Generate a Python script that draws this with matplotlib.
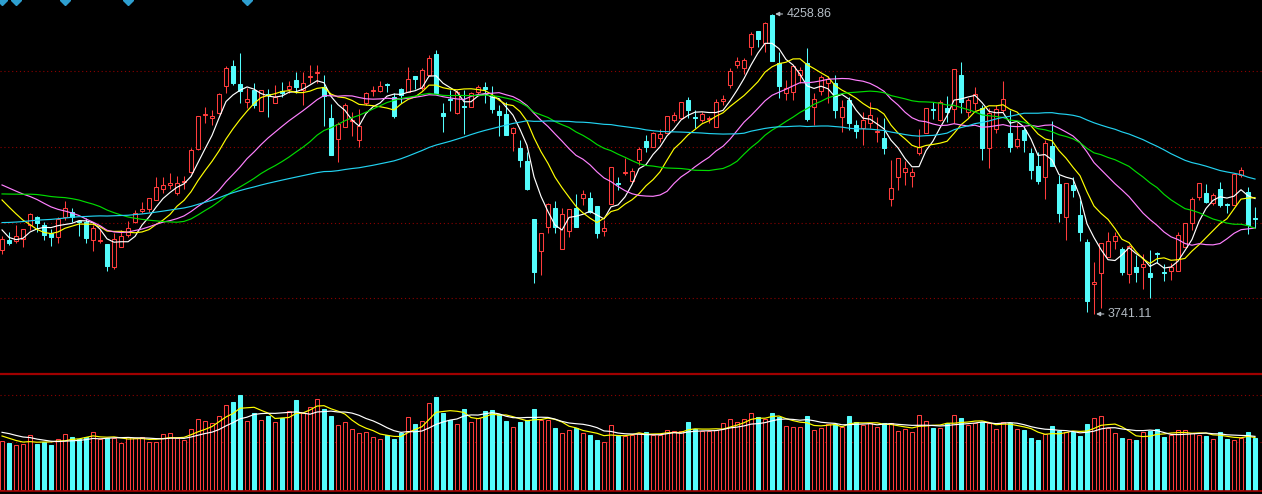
import numpy as np
import pandas as pd
import matplotlib
matplotlib.use('Agg')
from matplotlib import pyplot as plt

# daily candles, 180 sessions, oldest first
opens = [3852, 3869, 3867, 3871, 3895, 3908, 3895, 3881, 3874, 3908,
         3917, 3902, 3900, 3869, 3867, 3862, 3822, 3857, 3877, 3900,
         3919, 3922, 3938, 3957, 3964, 3950, 3969, 3986, 4026, 4085,
         4079, 4088, 4134, 4169, 4138, 4107, 4128, 4091, 4121, 4105,
         4126, 4129, 4145, 4128, 4150, 4157, 4133, 4079, 4043, 4064,
         4074, 4041, 4105, 4126, 4126, 4138, 4116, 4129, 4124, 4152,
         4131, 4154, 4190, 4088, 4112, 4088, 4100, 4098, 4124, 4133,
         4116, 4091, 4086, 4053, 4028, 4005, 3905, 3850, 3891, 3924,
         3853, 3884, 3924, 3941, 3941, 3927, 3884, 3931, 3967, 3984,
         3971, 4007, 4040, 4029, 4045, 4053, 4076, 4079, 4110, 4081,
         4076, 4078, 4064, 4109, 4136, 4171, 4166, 4202, 4230, 4209,
         4257, 4174, 4122, 4124, 4154, 4174, 4098, 4126, 4140, 4140,
         4081, 4110, 4067, 4062, 4071, 4055, 4045, 3940, 3978, 3986,
         3979, 4019, 4053, 4095, 4076, 4097, 4095, 4154, 4090, 4105,
         4097, 4028, 4060, 4093, 4053, 4031, 4059, 4019, 3997, 3978,
         4031, 3965, 3908, 3964, 3912, 3865, 3793, 3812, 3839, 3867,
         3853, 3810, 3822, 3822, 3812, 3846, 3813, 3815, 3815, 3857,
         3898, 3943, 3950, 3933, 3957, 3931, 3929, 3981, 3952, 3907]

highs = [3876, 3883, 3895, 3888, 3915, 3910, 3900, 3888, 3908, 3936,
         3924, 3903, 3907, 3895, 3888, 3862, 3881, 3886, 3902, 3921,
         3934, 3941, 3978, 3978, 3984, 3979, 3979, 4028, 4083, 4098,
         4093, 4122, 4169, 4180, 4191, 4131, 4140, 4128, 4129, 4136,
         4141, 4143, 4159, 4159, 4171, 4171, 4154, 4104, 4072, 4105,
         4090, 4095, 4124, 4134, 4143, 4140, 4122, 4131, 4167, 4152,
         4166, 4188, 4197, 4105, 4128, 4128, 4128, 4124, 4136, 4141,
         4134, 4102, 4107, 4064, 4041, 4021, 3905, 3881, 3933, 3936,
         3924, 3922, 3948, 3955, 3952, 3927, 3903, 3995, 3978, 4010,
         3993, 4029, 4050, 4055, 4060, 4083, 4090, 4107, 4116, 4093,
         4090, 4083, 4112, 4119, 4166, 4185, 4183, 4228, 4230, 4245,
         4258.86, 4193, 4145, 4171, 4167, 4200, 4122, 4154, 4152, 4154,
         4110, 4116, 4076, 4090, 4107, 4081, 4079, 4007, 4010, 4005,
         3993, 4060, 4097, 4107, 4110, 4117, 4164, 4176, 4114, 4133,
         4102, 4097, 4102, 4143, 4093, 4071, 4062, 4028, 4021, 4041,
         4074, 3981, 3967, 3978, 3938, 3871, 3831, 3864, 3883, 3883,
         3857, 3860, 3843, 3845, 3852, 3848, 3827, 3829, 3883, 3898,
         3943, 3967, 3965, 3950, 3969, 3933, 3983, 3995, 3960, 3926]

lows = [3845, 3860, 3864, 3857, 3886, 3883, 3869, 3858, 3864, 3903,
        3900, 3876, 3864, 3850, 3864, 3815, 3819, 3857, 3874, 3898,
        3915, 3917, 3938, 3950, 3957, 3947, 3957, 3984, 4024, 4071,
        4067, 4086, 4122, 4136, 4105, 4097, 4097, 4091, 4081, 4105,
        4116, 4122, 4122, 4102, 4140, 4140, 4066, 4015, 4003, 4064,
        4048, 4029, 4102, 4117, 4124, 4124, 4079, 4105, 4124, 4129,
        4128, 4154, 4122, 4055, 4091, 4086, 4052, 4098, 4119, 4105,
        4088, 4048, 4050, 4022, 3995, 3955, 3795, 3808, 3881, 3881,
        3853, 3874, 3891, 3929, 3915, 3872, 3876, 3931, 3955, 3981,
        3967, 3998, 4021, 4029, 4038, 4053, 4072, 4079, 4079, 4062,
        4072, 4071, 4064, 4102, 4131, 4166, 4155, 4188, 4202, 4193,
        4178, 4114, 4110, 4110, 4140, 4074, 4067, 4119, 4105, 4079,
        4055, 4059, 4045, 4033, 4062, 4038, 4017, 3927, 3955, 3964,
        3960, 4015, 4053, 4077, 4074, 4072, 4071, 4088, 4081, 4093,
        4007, 3993, 4053, 4090, 4021, 4028, 4021, 3974, 3965, 3940,
        3997, 3900, 3869, 3943, 3867, 3745, 3741.11, 3751, 3839, 3853,
        3808, 3795, 3796, 3784, 3769, 3829, 3798, 3800, 3815, 3857,
        3886, 3938, 3933, 3929, 3926, 3915, 3929, 3978, 3879, 3889]

closes = [3871, 3864, 3876, 3888, 3914, 3898, 3877, 3874, 3905, 3924,
          3908, 3900, 3872, 3889, 3869, 3824, 3871, 3876, 3889, 3915,
          3922, 3941, 3960, 3964, 3967, 3967, 3971, 4024, 4083, 4086,
          4083, 4121, 4166, 4140, 4126, 4112, 4102, 4128, 4119, 4116,
          4122, 4134, 4133, 4140, 4152, 4159, 4117, 4015, 4069, 4102,
          4076, 4066, 4122, 4128, 4134, 4136, 4083, 4119, 4147, 4147,
          4162, 4183, 4122, 4083, 4110, 4124, 4098, 4122, 4133, 4129,
          4095, 4085, 4050, 4062, 4007, 3957, 3813, 3881, 3931, 3891,
          3914, 3922, 3891, 3948, 3917, 3881, 3889, 3995, 3965, 3986,
          3988, 4026, 4029, 4053, 4052, 4083, 4085, 4107, 4093, 4079,
          4086, 4079, 4107, 4112, 4160, 4178, 4180, 4224, 4216, 4243,
          4178, 4134, 4131, 4169, 4162, 4078, 4112, 4150, 4147, 4093,
          4098, 4071, 4057, 4076, 4085, 4057, 4028, 3959, 4010, 3993,
          3986, 4029, 4097, 4093, 4107, 4090, 4164, 4107, 4110, 4121,
          4028, 4088, 4095, 4112, 4029, 4043, 4041, 3990, 3971, 4036,
          3997, 3915, 3967, 3955, 3883, 3764, 3796, 3864, 3867, 3876,
          3813, 3858, 3813, 3827, 3805, 3845, 3812, 3822, 3877, 3898,
          3940, 3967, 3934, 3947, 3929, 3929, 3983, 3990, 3895, 3905]

volumes = [147, 142, 134, 138, 165, 138, 145, 135, 152, 168,
           160, 152, 158, 174, 153, 155, 157, 142, 158, 157,
           158, 144, 144, 168, 171, 157, 150, 183, 212, 207,
           200, 222, 255, 264, 285, 207, 230, 210, 222, 204,
           215, 237, 270, 230, 249, 273, 243, 223, 195, 204,
           183, 171, 174, 159, 153, 164, 154, 172, 219, 198,
           207, 261, 280, 232, 210, 198, 243, 204, 215, 237,
           240, 227, 207, 189, 205, 210, 243, 210, 210, 186,
           171, 180, 185, 171, 165, 150, 144, 195, 163, 163,
           165, 172, 174, 166, 166, 180, 176, 176, 204, 182,
           176, 176, 180, 200, 212, 205, 212, 230, 218, 212,
           230, 220, 191, 188, 188, 222, 179, 185, 198, 198,
           188, 222, 203, 195, 200, 188, 200, 200, 176, 182,
           173, 224, 206, 186, 186, 200, 224, 216, 194, 200,
           203, 200, 182, 203, 200, 182, 180, 156, 150, 168,
           192, 177, 174, 174, 162, 198, 215, 221, 185, 170,
           156, 152, 150, 173, 177, 182, 159, 164, 179, 179,
           170, 164, 162, 152, 174, 153, 149, 155, 174, 156]

# sessions before the window, estimated from where the averages start
prior_closes = [3848, 3838, 3834, 3838, 3831, 3843, 3829, 3838, 3843, 3836,
                3841, 3848, 3851, 3845, 3839, 3846, 3853, 3858, 3851, 3848,
                3855, 3862, 3858, 3853, 3860, 3865, 3862, 3869, 3874, 3867,
                3869, 3883, 3895, 3907, 3917, 3924, 3931, 3938, 3947, 3962,
                3972, 3981, 3990, 3997, 4003, 4007, 3998, 3990, 3983, 3976,
                3986, 3993, 3998, 3990, 3981, 3929, 3895, 3876, 3860]
prior_volumes = [180, 188, 186, 182, 184, 175, 168, 162, 158]

# info markers along the top edge
event_days = [0, 2, 9, 18, 35]

UP = '#ff3c3c'
DOWN = '#54fcfc'
BG = 'black'
GRID = '#8c0000'
LABEL = '#b4bcc4'

price_ma = [(5, '#ffffff'), (10, '#ffff00'), (20, '#ff80ff'), (30, '#00dc00'), (60, '#22d2f0')]
vol_ma = [(5, '#ffff00'), (10, '#ffffff')]
grid_levels = [4160, 4029, 3899, 3769]
vol_grid = [284, 144]

o = np.array(opens, dtype=float)
h = np.array(highs, dtype=float)
l = np.array(lows, dtype=float)
c = np.array(closes, dtype=float)
v = np.array(volumes, dtype=float)
n = len(c)
idx = np.arange(n)
up = c >= o
lo_b = np.minimum(o, c)
hi_b = np.maximum(o, c)

H = 494.0
fig = plt.figure(figsize=(12.62, 4.94), dpi=100, facecolor=BG)
ax = fig.add_axes([0, 1 - 372 / H, 1, 372 / H])
axv = fig.add_axes([0, 1 - 491 / H, 1, (491 - 374) / H])
for a in (ax, axv):
    a.set_facecolor(BG)
    a.set_xlim(-0.29, 180)
    a.set_xticks([])
    a.set_yticks([])
    for s in a.spines.values():
        s.set_visible(False)

ax.set_ylim(3641, 4283)
for lvl in grid_levels:
    ax.axhline(lvl, color=GRID, lw=0.8, ls=(0, (1, 2.5)), zorder=0)

# candles
bw = 0.64
ax.vlines(idx[~up], l[~up], h[~up], color=DOWN, lw=0.75, zorder=2)
ax.vlines(idx[up], l[up], lo_b[up], color=UP, lw=0.75, zorder=2)
ax.vlines(idx[up], hi_b[up], h[up], color=UP, lw=0.75, zorder=2)
ax.bar(idx[up], (hi_b - lo_b)[up], bottom=lo_b[up], width=bw,
       facecolor=BG, edgecolor=UP, lw=0.75, zorder=3)
ax.bar(idx[~up], (hi_b - lo_b)[~up], bottom=lo_b[~up], width=bw,
       color=DOWN, edgecolor=DOWN, lw=0.75, zorder=3)

all_c = pd.Series(prior_closes + closes, dtype=float)
for w, col in price_ma:
    ma = all_c.rolling(w).mean().to_numpy()[len(prior_closes):]
    ax.plot(idx, ma, color=col, lw=0.85, zorder=4)

ax.plot(event_days, [4283] * len(event_days), ls='none', marker='D', ms=5.5,
        color='#2e9fd0', zorder=5)

# high / low labels
hi_i = int(np.argmax(h))
lo_i = int(np.argmin(l))
arrow = dict(arrowstyle='-|>', color=LABEL, lw=0.8, shrinkA=1, shrinkB=0, mutation_scale=6)
ax.annotate(f'{h[hi_i]:.2f}', xy=(hi_i + 0.45, h[hi_i]), xytext=(hi_i + 2.1, h[hi_i]),
            color=LABEL, fontsize=9, family='Liberation Sans', va='center', ha='left',
            arrowprops=arrow, zorder=6)
ax.annotate(f'{l[lo_i]:.2f}', xy=(lo_i + 0.3, l[lo_i]), xytext=(lo_i + 2.0, l[lo_i]),
            color=LABEL, fontsize=9, family='Liberation Sans', va='center', ha='left',
            arrowprops=arrow, zorder=6)

# volume panel
axv.set_ylim(-3, 348)
for lvl in vol_grid:
    axv.axhline(lvl, color=GRID, lw=0.8, ls=(0, (1, 2.5)), zorder=0)
axv.bar(idx[up], v[up], width=bw, facecolor=BG, edgecolor=UP, lw=0.75, zorder=2)
axv.bar(idx[~up], v[~up], width=bw, color=DOWN, edgecolor=DOWN, lw=0.75, zorder=2)
all_v = pd.Series(prior_volumes + volumes, dtype=float)
for w, col in vol_ma:
    ma = all_v.rolling(w).mean().to_numpy()[len(prior_volumes):]
    axv.plot(idx, ma, color=col, lw=0.85, zorder=3)
for side in ('top', 'bottom'):
    axv.spines[side].set_visible(True)
    axv.spines[side].set_color('#a00000')
axv.spines['top'].set_linewidth(1.6)
axv.spines['bottom'].set_linewidth(1.2)

fig.savefig('out.png', dpi=100, facecolor=BG)
